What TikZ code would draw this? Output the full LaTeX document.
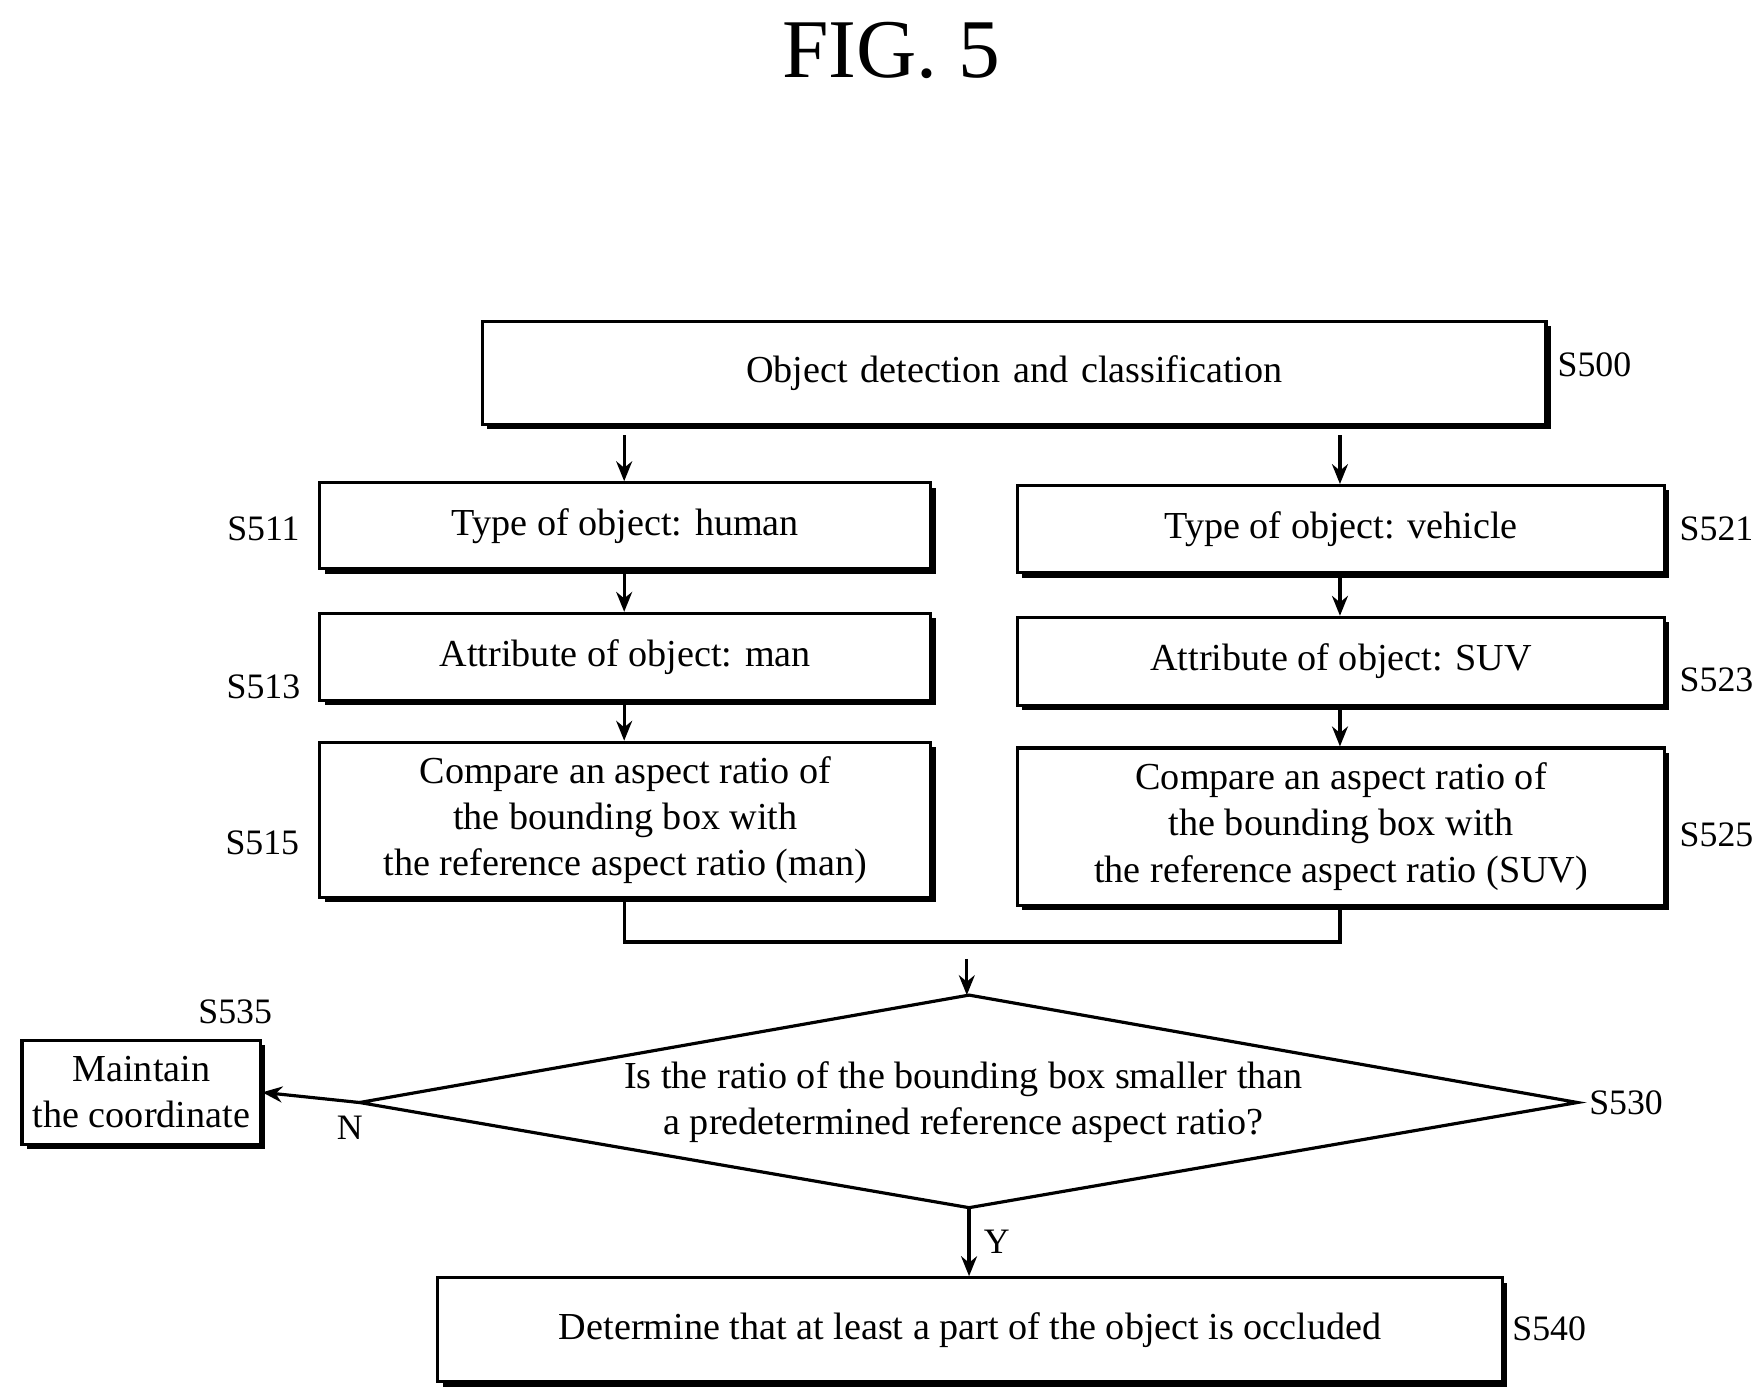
\documentclass[tikz,border=0pt]{standalone}
\usepackage{fontspec}
\setmainfont{Liberation Serif}
\usetikzlibrary{arrows.meta, positioning, shadows}

\begin{document}
\begin{tikzpicture}[x=0.01cm, y=-0.01cm,
    box/.style={draw, line width=0.8pt, fill=white, inner sep=0pt, align=center,
        drop shadow={shadow xshift=1.2pt, shadow yshift=-1.2pt, fill=black, opacity=1},
        font=\fontsize{9.6}{11.6}\selectfont},
    lbl/.style={font=\fontsize{9}{11}\selectfont},
    arr/.style={-{Stealth[length=5pt, width=4pt]}, line width=0.8pt}]
    \useasboundingbox (0,0) rectangle (1560,1236);
    \node[font=\fontsize{21}{24}\selectfont] (title) at (788,45) {FIG. 5};

    % boxes: centre, size
    \node[box, minimum width=940\pgflinewidth, text width=9.2cm, minimum width=9.4cm, minimum height=0.91cm] (s500) at (897,330) {Object detection and classification};
    \node[box, minimum width=5.4cm, minimum height=0.76cm] (s511) at (553,465) {Type of object: human};
    \node[box, minimum width=5.4cm, minimum height=0.77cm] (s513) at (553,581) {Attribute of object: man};
    \node[box, minimum width=5.4cm, minimum height=1.37cm] (s515) at (553,725) {Compare an aspect ratio of\\the bounding box with\\the reference aspect ratio (man)};
    \node[box, minimum width=5.72cm, minimum height=0.77cm] (s521) at (1186,468) {Type of object: vehicle};
    \node[box, minimum width=5.72cm, minimum height=0.78cm] (s523) at (1186,585) {Attribute of object: SUV};
    \node[box, minimum width=5.72cm, minimum height=1.39cm] (s525) at (1186,731) {Compare an aspect ratio of\\the bounding box with\\the reference aspect ratio (SUV)};
    \node[box, minimum width=2.11cm, minimum height=0.92cm] (s535) at (125,966) {Maintain\\the coordinate};
    \node[box, minimum width=9.41cm, minimum height=0.92cm] (s540) at (858,1176) {Determine that at least a part of the object is occluded};

    % decision
    \coordinate (dt) at (857,880);
    \coordinate (dl) at (318,975);
    \coordinate (dr) at (1395,975);
    \coordinate (db) at (857,1068);
    \draw[line width=0.8pt] (dt) -- (dr) -- (db) -- (dl) -- cycle;
    \node[font=\fontsize{9.6}{11.6}\selectfont, align=center] (s530) at (852,975) {Is the ratio of the bounding box smaller than\\a predetermined reference aspect ratio?};

    % step labels
    \node[lbl] (l500) at (1410,323) {S500};
    \node[lbl] (l511) at (233,468) {S511};
    \node[lbl] (l513) at (233,607) {S513};
    \node[lbl] (l515) at (232,745) {S515};
    \node[lbl] (l521) at (1518,468) {S521};
    \node[lbl] (l523) at (1518,601) {S523};
    \node[lbl] (l525) at (1518,738) {S525};
    \node[lbl] (l535) at (208,895) {S535};
    \node[lbl] (l530) at (1438,975) {S530};
    \node[lbl] (l540) at (1370,1175) {S540};

    % connectors
    \coordinate (a1) at (552,385);
    \coordinate (a2) at (1185,385);
    \coordinate (m1) at (552,833);
    \coordinate (m2) at (1185,833);
    \coordinate (a3) at (855,848);
    \draw[arr] (a1) -- (s511.north -| a1);
    \draw[arr] (a2) -- (s521.north -| a2);
    \draw[arr] (s511.south -| a1) -- (s513.north -| a1);
    \draw[arr] (s513.south -| a1) -- (s515.north -| a1);
    \draw[arr] (s521.south -| a2) -- (s523.north -| a2);
    \draw[arr] (s523.south -| a2) -- (s525.north -| a2);
    \draw[line width=0.8pt] (s515.south -| m1) -- (m1) -- (m2) -- (s525.south -| m2);
    \draw[arr] (a3) -- (a3 |- dt);
    \draw[arr] (dl) -- (s535.east) node[pos=0.1, below, lbl] {N};
    \draw[arr] (db) -- (s540.north -| db) node[midway, right, lbl] {Y};
\end{tikzpicture}
\end{document}
